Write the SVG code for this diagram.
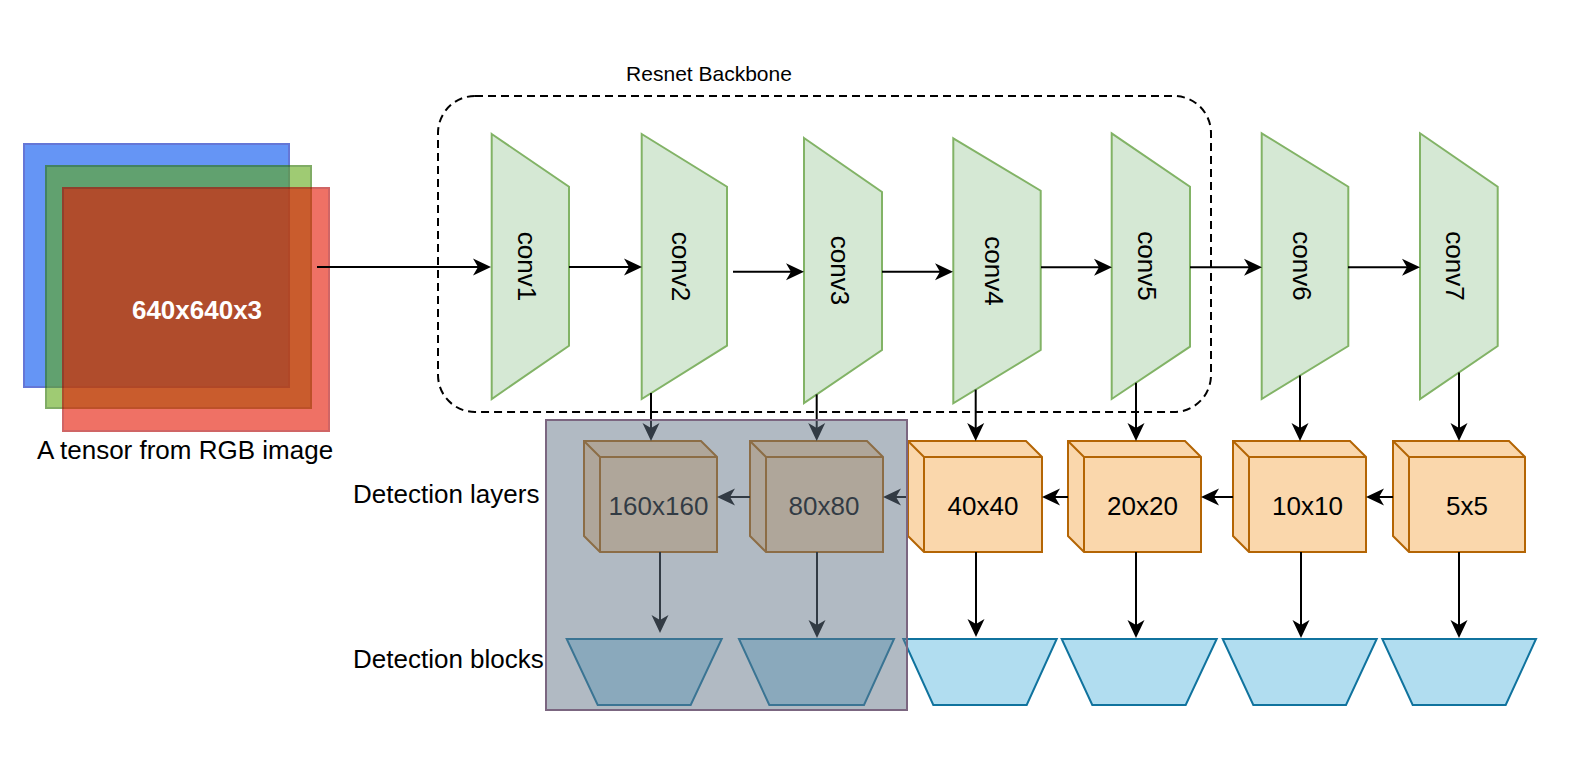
<svg xmlns="http://www.w3.org/2000/svg" width="1573" height="763" viewBox="0 0 1573 763">
<style>
text{font-family:"Liberation Sans",Arial,Helvetica,sans-serif;font-size:26px;fill:#000}
.conv{fill:#d5e8d4;stroke:#82b366;stroke-width:2}
.cube{fill:#fad7ac;stroke:#b46504;stroke-width:2;stroke-linejoin:miter}
.cubein{fill:none;stroke:#b46504;stroke-width:2}
.blk{fill:#b1ddf0;stroke:#10739e;stroke-width:2}
.edge{fill:none;stroke:#000;stroke-width:2;marker-end:url(#arr)}
.mid{text-anchor:middle}
</style>
<defs>
<marker id="arr" markerUnits="userSpaceOnUse" viewBox="-10 -10 22 20" refX="0" refY="0" markerWidth="22" markerHeight="20" orient="auto">
<path d="M10,0 L-8,-8.5 L-3,0 L-8,8.5 Z" fill="#000"/>
</marker>
</defs>
<rect width="1573" height="763" fill="#fff"/>

<g id="tensor">
<rect x="24" y="144" width="265" height="243" fill="#0050ef" stroke="#001dbc" stroke-width="2" opacity="0.6"/>
<rect x="46" y="166" width="265" height="242" fill="#60a917" stroke="#2d7600" stroke-width="2" opacity="0.6"/>
<rect x="63" y="188" width="266" height="243" fill="#e51400" stroke="#b20000" stroke-width="2" opacity="0.6"/>
<text x="197" y="319" class="mid" style="fill:#fff;font-weight:bold">640x640x3</text>
<text x="185" y="459" class="mid">A tensor from RGB image</text>
</g>

<g id="backbone">
<rect x="438" y="96" width="773" height="316" rx="37" ry="37" fill="none" stroke="#000" stroke-width="2" stroke-dasharray="8 5"/>
<text x="709" y="81" class="mid" style="font-size:21px">Resnet Backbone</text>
</g>

<g id="labels">
<text x="353" y="503">Detection layers</text>
<text x="353" y="668">Detection blocks</text>
</g>

<g id="conv1"><polygon class="conv" points="491.7,134 569,186.7 569,345.7 491.7,399"/><text class="mid" transform="translate(518,266.5) rotate(90)">conv1</text></g>
<g id="conv2"><polygon class="conv" points="641.7,134 727,186.7 727,345.7 641.7,399"/><text class="mid" transform="translate(672,266.5) rotate(90)">conv2</text></g>
<g id="conv3"><polygon class="conv" points="804,138 882,192 882,350 804,403"/><text class="mid" transform="translate(830.5,270.5) rotate(90)">conv3</text></g>
<g id="conv4"><polygon class="conv" points="953.3,138.3 1040.7,190.7 1040.7,350 953.3,403.3"/><text class="mid" transform="translate(984.5,271) rotate(90)">conv4</text></g>
<g id="conv5"><polygon class="conv" points="1111.7,133.3 1190,186.7 1190,346.7 1111.7,399"/><text class="mid" transform="translate(1138.3,266) rotate(90)">conv5</text></g>
<g id="conv6"><polygon class="conv" points="1261.7,133.3 1348.3,186.7 1348.3,346 1261.7,399"/><text class="mid" transform="translate(1292.5,266) rotate(90)">conv6</text></g>
<g id="conv7"><polygon class="conv" points="1420,133.3 1497.7,186.7 1497.7,346 1420,399"/><text class="mid" transform="translate(1446.3,266) rotate(90)">conv7</text></g>

<g id="cube160"><path class="cube" d="M584,441 H701 L717,457 V552 H600 L584,536 Z"/><path class="cubein" d="M584,441 L600,457 H717 M600,457 V552"/><text x="658.5" y="515" class="mid">160x160</text></g>
<g id="cube80"><path class="cube" d="M750,441 H867 L883,457 V552 H766 L750,536 Z"/><path class="cubein" d="M750,441 L766,457 H883 M766,457 V552"/><text x="824" y="515" class="mid">80x80</text></g>
<g id="cube40"><path class="cube" d="M908,441 H1026 L1042,457 V552 H924 L908,536 Z"/><path class="cubein" d="M908,441 L924,457 H1042 M924,457 V552"/><text x="983" y="515" class="mid">40x40</text></g>
<g id="cube20"><path class="cube" d="M1068,441 H1185 L1201,457 V552 H1084 L1068,536 Z"/><path class="cubein" d="M1068,441 L1084,457 H1201 M1084,457 V552"/><text x="1142.5" y="515" class="mid">20x20</text></g>
<g id="cube10"><path class="cube" d="M1233,441 H1350 L1366,457 V552 H1249 L1233,536 Z"/><path class="cubein" d="M1233,441 L1249,457 H1366 M1249,457 V552"/><text x="1307.5" y="515" class="mid">10x10</text></g>
<g id="cube5"><path class="cube" d="M1393,441 H1509 L1525,457 V552 H1409 L1393,536 Z"/><path class="cubein" d="M1393,441 L1409,457 H1525 M1409,457 V552"/><text x="1467" y="515" class="mid">5x5</text></g>

<g id="block160"><polygon class="blk" points="566.7,639 721.7,639 690.7,705 597.7,705"/></g>
<g id="block80"><polygon class="blk" points="739,639 894,639 864,705 769.3,705"/></g>
<g id="block40"><polygon class="blk" points="903.3,639 1056.7,639 1026.7,705 933.3,705"/></g>
<g id="block20"><polygon class="blk" points="1061.7,639 1216.7,639 1185.7,705 1092.3,705"/></g>
<g id="block10"><polygon class="blk" points="1222.7,639 1376.7,639 1346,705 1253.3,705"/></g>
<g id="block5"><polygon class="blk" points="1382.3,639 1536,639 1505.7,705 1412.7,705"/></g>

<g id="connectors">
<path class="edge" d="M317,267 H481"/>
<path class="edge" d="M569,267 H632"/>
<path class="edge" d="M733,271.7 H794"/>
<path class="edge" d="M882,271.7 H943"/>
<path class="edge" d="M1041,267.3 H1102"/>
<path class="edge" d="M1190,267.3 H1252"/>
<path class="edge" d="M1348,267.3 H1410"/>
<path class="edge" d="M651,393 V431"/>
<path class="edge" d="M816.7,394.4 V431"/>
<path class="edge" d="M975.7,389.6 V431"/>
<path class="edge" d="M1136,382.8 V431"/>
<path class="edge" d="M1300,375.6 V431"/>
<path class="edge" d="M1459,372.4 V431"/>
<path class="edge" d="M1393,497 H1376"/>
<path class="edge" d="M1233,497 H1211"/>
<path class="edge" d="M1068,497 H1052"/>
<path class="edge" d="M908,497 H893"/>
<path class="edge" d="M750,497 H727"/>
<path class="edge" d="M660,552 V623"/>
<path class="edge" d="M817,552 V628"/>
<path class="edge" d="M976,552 V627"/>
<path class="edge" d="M1136,552 V628"/>
<path class="edge" d="M1301,552 V628"/>
<path class="edge" d="M1459,552 V628"/>
</g>

<g id="overlay">
<rect x="546" y="420" width="361" height="290" fill="#647687" fill-opacity="0.5" stroke="#7b6680" stroke-width="2"/>
</g>
</svg>
